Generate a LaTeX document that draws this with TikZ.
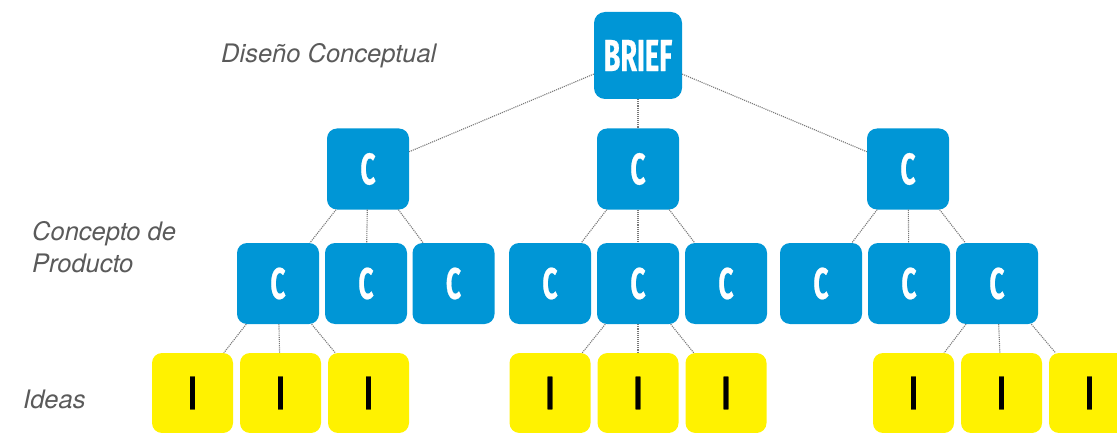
\documentclass[tikz,border=0pt]{standalone}
\usepackage{fontspec}
\setmainfont{TeX Gyre Heros}
\newfontfamily\condfont[FakeStretch=0.6,FakeBold=0.5]{Fira Sans}
\definecolor{boxblue}{RGB}{0,150,214}
\definecolor{boxyellow}{RGB}{255,242,0}
\definecolor{labelgray}{RGB}{90,90,90}
\definecolor{linegray}{RGB}{120,120,120}
\begin{document}
\begin{tikzpicture}[x=1pt,y=-1pt,
  cbox/.style={rectangle, rounded corners=10pt, fill=boxblue, minimum width=82pt, minimum height=81pt, inner sep=0pt, text=white, font=\condfont\bfseries\fontsize{44}{44}\selectfont},
  bbox/.style={cbox, minimum width=88pt, minimum height=87pt, rounded corners=11pt, font=\condfont\bfseries\fontsize{45}{45}\selectfont},
  ibox/.style={rectangle, rounded corners=10pt, fill=boxyellow, minimum width=81pt, minimum height=80pt, inner sep=0pt, text=black, font=\condfont\bfseries\fontsize{47}{47}\selectfont},
  link/.style={draw=linegray, densely dotted, line width=1.1pt},
  lbl/.style={text=labelgray, font=\itshape\fontsize{25.5}{32}\selectfont, inner sep=0pt}]
\useasboundingbox (0,0) rectangle (1117,433);
% level 1
\node[bbox] (b) at (638,55.5) {BRIEF};
% level 2
\node[cbox] (c1) at (368,169) {C};
\node[cbox] (c2) at (638,169) {C};
\node[cbox] (c3) at (908,169) {C};
% level 3
\node[cbox] (d1) at (278,283.5) {C};
\node[cbox] (d2) at (366,283.5) {C};
\node[cbox] (d3) at (453.5,283.5) {C};
\node[cbox] (d4) at (550,283.5) {C};
\node[cbox] (d5) at (638,283.5) {C};
\node[cbox] (d6) at (726,283.5) {C};
\node[cbox] (d7) at (821,283.5) {C};
\node[cbox] (d8) at (909,283.5) {C};
\node[cbox] (d9) at (997,283.5) {C};
% level 4
\node[ibox] (i1) at (192.5,393) {I};
\node[ibox] (i2) at (280.5,393) {I};
\node[ibox] (i3) at (368.5,393) {I};
\node[ibox] (i4) at (550,393) {I};
\node[ibox] (i5) at (638,393) {I};
\node[ibox] (i6) at (726,393) {I};
\node[ibox] (i7) at (913.5,393) {I};
\node[ibox] (i8) at (1001.5,393) {I};
\node[ibox] (i9) at (1089.5,393) {I};
% connectors
\foreach \t in {c1,c2,c3} \draw[link] (b) -- (\t);
\foreach \t in {d1,d2,d3} \draw[link] (c1) -- (\t);
\foreach \t in {d4,d5,d6} \draw[link] (c2) -- (\t);
\foreach \t in {d7,d8,d9} \draw[link] (c3) -- (\t);
\foreach \t in {i1,i2,i3} \draw[link] (d1) -- (\t);
\foreach \t in {i4,i5,i6} \draw[link] (d5) -- (\t);
\foreach \t in {i7,i8,i9} \draw[link] (d9) -- (\t);
% labels
\node[lbl, anchor=base west] (l1) at (221,63) {Diseño Conceptual};
\node[lbl, anchor=north west, align=left] (l2) at (32,221) {Concepto de\\Producto};
\node[lbl, anchor=base west] (l3) at (23,408) {Ideas};
\end{tikzpicture}
\end{document}
